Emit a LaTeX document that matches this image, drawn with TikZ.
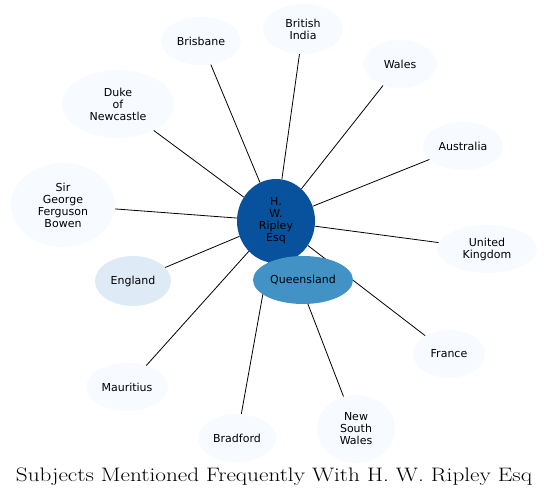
\documentclass[tikz,border=0pt]{standalone}
\usepackage{fontspec}
\newfontfamily\nodefont{DejaVu Sans}
\usetikzlibrary{shapes.geometric,backgrounds}
\definecolor{cdark}{HTML}{08519C}
\definecolor{cmid}{HTML}{4292C6}
\definecolor{clight}{HTML}{DEEBF7}
\definecolor{cpale}{HTML}{F7FBFF}
\tikzset{
  ent/.style={ellipse, fill=cpale, draw=none, inner sep=0pt, align=center,
    font=\nodefont\fontsize{11}{12}\selectfont, text=black},
  link/.style={draw=black, line width=0.8pt},
}
\begin{document}
\begin{tikzpicture}[x=1pt,y=-1pt]
\useasboundingbox (0,0) rectangle (549,498);
\node[ent, fill=cdark, minimum width=78pt, minimum height=84pt] (hw) at (276,221) {H.\\W.\\Ripley\\Esq};
\node[ent, fill=cmid, minimum width=100pt, minimum height=48pt] (ql) at (303,280) {Queensland};
\node[ent, fill=clight, minimum width=76pt, minimum height=50pt] (en) at (133,281) {England};
\node[ent, minimum width=104pt, minimum height=84pt] (sg) at (63,205) {Sir\\George\\Ferguson\\Bowen};
\node[ent, minimum width=112pt, minimum height=68pt] (dn) at (118,104) {Duke\\of\\Newcastle};
\node[ent, minimum width=80pt, minimum height=48pt] (br) at (201,41) {Brisbane};
\node[ent, minimum width=80pt, minimum height=50pt] (bi) at (303,29) {British\\India};
\node[ent, minimum width=72pt, minimum height=48pt] (wa) at (400,64) {Wales};
\node[ent, minimum width=80pt, minimum height=48pt] (au) at (463,146) {Australia};
\node[ent, minimum width=100pt, minimum height=48pt] (uk) at (487,249) {United\\Kingdom};
\node[ent, minimum width=72pt, minimum height=48pt] (fr) at (449,354) {France};
\node[ent, minimum width=78pt, minimum height=68pt] (ns) at (356,429) {New\\South\\Wales};
\node[ent, minimum width=78pt, minimum height=48pt] (bf) at (237,438) {Bradford};
\node[ent, minimum width=82pt, minimum height=48pt] (mu) at (127,387) {Mauritius};
\node[font=\fontsize{19.5}{22}\selectfont, xscale=1.19] (title) at (274,477) {Subjects Mentioned Frequently With H. W. Ripley Esq};
\begin{scope}[on background layer]
\draw[link] (hw) -- (br);
\draw[link] (hw) -- (bi);
\draw[link] (hw) -- (wa);
\draw[link] (hw) -- (au);
\draw[link] (hw) -- (uk);
\draw[link] (hw) -- (dn);
\draw[link] (hw) -- (sg);
\draw[link] (hw) -- (en);
\draw[link] (hw) -- (mu);
\draw[link] (hw) -- (ql);
\draw[link] (hw) -- (fr);
\draw[link] (hw) -- (ns);
\draw[link] (hw) -- (bf);
\end{scope}
\end{tikzpicture}
\end{document}
